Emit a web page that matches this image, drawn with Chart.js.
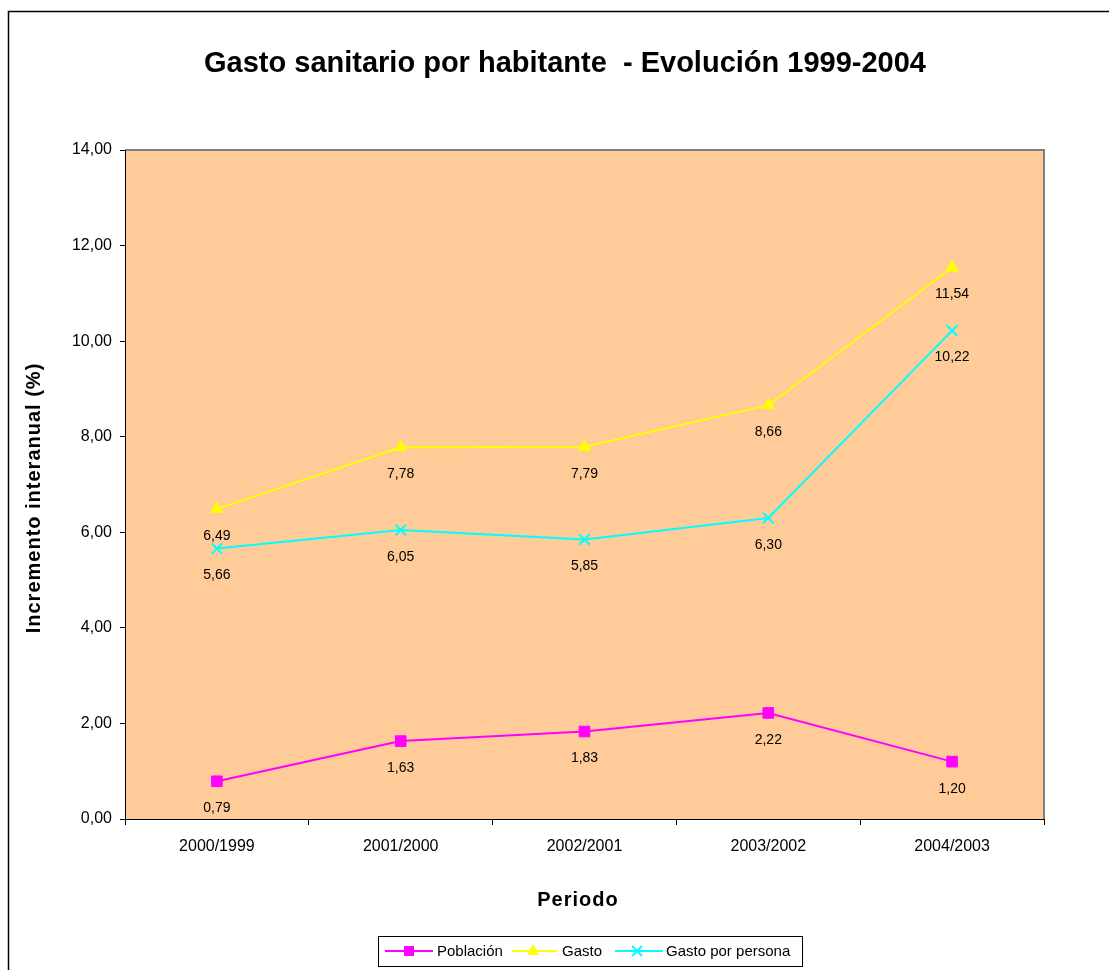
<!DOCTYPE html>
<html>
<head>
<meta charset="utf-8">
<script src="https://cdn.jsdelivr.net/npm/chart.js@4.4.0/dist/chart.umd.min.js"></script>
<style>
  body { margin: 0; background: #fff; }
  canvas { display: block; }
</style>
</head>
<body>
<canvas id="grafico" width="1109" height="970"></canvas>
<script>
const periodos = ['2000/1999', '2001/2000', '2002/2001', '2003/2002', '2004/2003'];
const poblacion = [0.79, 1.63, 1.83, 2.22, 1.20];
const gasto = [6.49, 7.78, 7.79, 8.66, 11.54];
const gastoPersona = [5.66, 6.05, 5.85, 6.30, 10.22];

const FUENTE = "'Liberation Sans', Arial, sans-serif";
const coma = v => Number(v).toFixed(2).replace('.', ',');

// marco exterior, fondo del area de trazado y borde gris
const fondo = {
  id: 'fondo',
  beforeDraw(chart) {
    const { ctx, chartArea: a } = chart;
    ctx.save();
    ctx.fillStyle = '#fff';
    ctx.fillRect(0, 0, chart.width, chart.height);
    ctx.strokeStyle = '#000';
    ctx.lineWidth = 1.5;
    ctx.strokeRect(8.5, 11.5, 1200, 1200);
    ctx.fillStyle = '#FFCC99';
    ctx.fillRect(a.left, a.top, a.right - a.left, a.bottom - a.top);
    ctx.strokeStyle = '#808080';
    ctx.lineWidth = 2;
    ctx.beginPath();
    ctx.moveTo(a.left, a.top);
    ctx.lineTo(a.right, a.top);
    ctx.lineTo(a.right, a.bottom);
    ctx.stroke();
    ctx.restore();
  }
};

// etiquetas de valores debajo de cada punto
const etiquetas = {
  id: 'etiquetas',
  afterDatasetsDraw(chart) {
    const ctx = chart.ctx;
    ctx.save();
    ctx.font = '14px ' + FUENTE;
    ctx.fillStyle = '#000';
    ctx.textAlign = 'center';
    ctx.textBaseline = 'middle';
    chart.data.datasets.forEach((ds, i) => {
      chart.getDatasetMeta(i).data.forEach((p, j) => {
        ctx.fillText(coma(ds.data[j]), p.x, p.y + 27);
      });
    });
    ctx.restore();
  }
};

function marcador(ctx, estilo, x, y, color) {
  ctx.save();
  ctx.fillStyle = color;
  ctx.strokeStyle = color;
  ctx.lineWidth = 2;
  ctx.beginPath();
  if (estilo === 'rect') {
    ctx.rect(x - 5, y - 5, 10, 10);
    ctx.fill();
  } else if (estilo === 'triangle') {
    ctx.moveTo(x, y - 7);
    ctx.lineTo(x + 6, y + 4);
    ctx.lineTo(x - 6, y + 4);
    ctx.closePath();
    ctx.fill();
  } else {
    ctx.moveTo(x - 5, y - 5); ctx.lineTo(x + 5, y + 5);
    ctx.moveTo(x + 5, y - 5); ctx.lineTo(x - 5, y + 5);
    ctx.stroke();
  }
  ctx.restore();
}

// titulos y leyenda
const textos = {
  id: 'textos',
  afterDraw(chart) {
    const ctx = chart.ctx;
    ctx.save();
    ctx.fillStyle = '#000';
    ctx.textBaseline = 'alphabetic';
    ctx.textAlign = 'center';
    ctx.font = 'bold 29px ' + FUENTE;
    ctx.fillText('Gasto sanitario por habitante  - Evolución 1999-2004', 565, 72);

    ctx.font = 'bold 20px ' + FUENTE;
    ctx.letterSpacing = '1px';
    ctx.fillText('Periodo', 578, 906);
    ctx.save();
    ctx.translate(40, 498);
    ctx.rotate(-Math.PI / 2);
    ctx.fillText('Incremento interanual (%)', 0, 0);
    ctx.restore();
    ctx.letterSpacing = '0px';

    ctx.strokeStyle = '#000';
    ctx.lineWidth = 1;
    ctx.strokeRect(378.5, 936.5, 424, 30);
    const items = [[385, 433, 409, 437], [512, 557, 533, 562], [615, 663, 637, 666]];
    ctx.font = '15px ' + FUENTE;
    ctx.textAlign = 'left';
    chart.data.datasets.forEach((ds, i) => {
      const [x0, x1, xm, xt] = items[i];
      ctx.strokeStyle = ds.borderColor;
      ctx.lineWidth = 2;
      ctx.beginPath();
      ctx.moveTo(x0, 951);
      ctx.lineTo(x1, 951);
      ctx.stroke();
      marcador(ctx, ds.pointStyle, xm, 951, ds.borderColor);
      ctx.fillStyle = '#000';
      ctx.fillText(ds.label, xt, 956);
    });
    ctx.restore();
  }
};

new Chart(document.getElementById('grafico'), {
  type: 'line',
  data: {
    labels: periodos,
    datasets: [
      {
        label: 'Población',
        data: poblacion,
        borderColor: '#FF00FF',
        backgroundColor: '#FF00FF',
        borderWidth: 2,
        pointStyle: 'rect',
        pointRadius: 7.5,
        pointBorderWidth: 1
      },
      {
        label: 'Gasto',
        data: gasto,
        borderColor: '#FFFF00',
        backgroundColor: '#FFFF00',
        borderWidth: 2,
        pointStyle: 'triangle',
        pointRadius: 7,
        pointBorderWidth: 1
      },
      {
        label: 'Gasto por persona',
        data: gastoPersona,
        borderColor: '#00FFFF',
        backgroundColor: '#00FFFF',
        borderWidth: 2,
        pointStyle: 'crossRot',
        pointRadius: 7.5,
        pointBorderWidth: 2
      }
    ]
  },
  options: {
    responsive: false,
    animation: false,
    layout: { padding: { left: 10, right: 65, top: 150, bottom: 91 } },
    plugins: {
      legend: { display: false },
      title: { display: false },
      tooltip: { enabled: false }
    },
    scales: {
      x: {
        offset: true,
        afterFit: s => { s.height = 60; },
        grid: { offset: true, drawOnChartArea: false, color: '#000', tickLength: 6 },
        border: { color: '#000', width: 1 },
        ticks: { color: '#000', padding: 12, font: { family: FUENTE, size: 16 } }
      },
      y: {
        min: 0,
        max: 14,
        afterFit: s => { s.width = 115; },
        grid: { drawOnChartArea: false, color: '#000', tickLength: 5 },
        border: { color: '#000', width: 1 },
        ticks: {
          stepSize: 2,
          color: '#000',
          padding: 8,
          font: { family: FUENTE, size: 16 },
          callback: v => coma(v)
        }
      }
    }
  },
  plugins: [fondo, etiquetas, textos]
});
</script>
</body>
</html>
